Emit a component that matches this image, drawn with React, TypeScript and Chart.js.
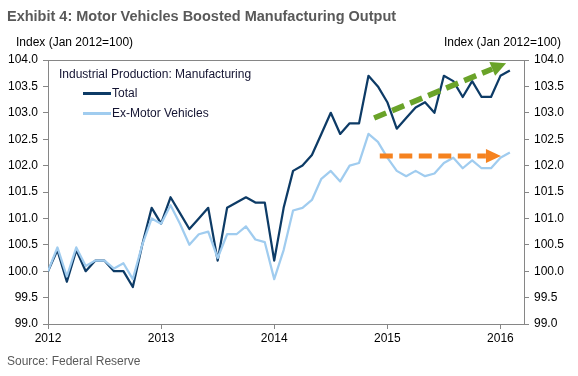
import { useEffect, useRef } from "react";
import { Chart, registerables } from "chart.js";

Chart.register(...registerables);

// ---- data (monthly, Jan 2012 .. Feb 2016) ----
const total = [
  100.0, 100.4, 99.8, 100.4, 100.0, 100.2, 100.2, 100.0, 100.0, 99.7, 100.5, 101.2,
  100.9, 101.4, 101.1, 100.8, 101.0, 101.2, 100.2, 101.2, 101.3, 101.4, 101.3, 101.3,
  100.2, 101.2, 101.9, 102.0, 102.2, 102.6, 103.0, 102.6, 102.8, 102.8, 103.7, 103.5,
  103.2, 102.7, 102.9, 103.1, 103.2, 103.0, 103.7, 103.6, 103.3, 103.6, 103.3, 103.3,
  103.7, 103.8,
];
const exMotor = [
  100.0, 100.45, 99.9, 100.45, 100.1, 100.2, 100.2, 100.05, 100.15, 99.85, 100.5, 101.0,
  100.9, 101.25, 100.9, 100.5, 100.7, 100.75, 100.25, 100.7, 100.7, 100.85, 100.6, 100.55,
  99.85, 100.4, 101.15, 101.2, 101.35, 101.75, 101.9, 101.7, 102.0, 102.05, 102.6, 102.45,
  102.15, 101.9, 101.8, 101.9, 101.8, 101.85, 102.05, 102.15, 101.95, 102.1, 101.95, 101.95,
  102.15, 102.25,
];
const yearLabels = ["2012", "2013", "2014", "2015", "2016"];
const yearTickMonths = [0, 12, 24, 36, 48];
const seriesNames = ["Total", "Ex-Motor Vehicles"];
// arrow annotations in data units: [monthIndex, value]
const greenArrowFrom = [34.6, 102.9];
const greenArrowTo = [48.6, 103.94];
const orangeArrowFrom = [35.2, 102.18];
const orangeArrowTo = [48.05, 102.18];

const FONT = '"Liberation Sans", Arial, Helvetica, sans-serif';
const DARK = "#0d3b66";
const LIGHT = "#a0ccef";
const AXIS = "#868686";

function drawArrow(chart: any, from: number[], to: number[], color: string, lw: number, dash: number[], headLen: number, headHalf: number) {
  const { ctx, scales } = chart;
  const sx = scales.x.getPixelForValue(from[0]);
  const sy = scales.y.getPixelForValue(from[1]);
  const tx = scales.x.getPixelForValue(to[0]);
  const ty = scales.y.getPixelForValue(to[1]);
  const len = Math.hypot(tx - sx, ty - sy);
  const ux = (tx - sx) / len;
  const uy = (ty - sy) / len;
  const bx = tx - ux * headLen;
  const by = ty - uy * headLen;
  ctx.save();
  ctx.strokeStyle = color;
  ctx.fillStyle = color;
  ctx.lineWidth = lw;
  ctx.lineCap = "butt";
  ctx.setLineDash(dash);
  ctx.beginPath();
  ctx.moveTo(sx, sy);
  ctx.lineTo(bx, by);
  ctx.stroke();
  ctx.setLineDash([]);
  ctx.beginPath();
  ctx.moveTo(tx, ty);
  ctx.lineTo(bx - uy * headHalf, by + ux * headHalf);
  ctx.lineTo(bx + uy * headHalf, by - ux * headHalf);
  ctx.closePath();
  ctx.fill();
  ctx.restore();
}

const extrasPlugin = {
  id: "extras",
  afterDatasetsDraw(chart: any) {
    drawArrow(chart, greenArrowFrom, greenArrowTo, "#6aa329", 5.5, [13, 6.5], 15, 7.5);
    drawArrow(chart, orangeArrowFrom, orangeArrowTo, "#f5821f", 5, [13, 6.5], 15, 7);
  },
  afterDraw(chart: any) {
    const { ctx, chartArea } = chart;
    ctx.save();
    ctx.strokeStyle = AXIS;
    ctx.lineWidth = 1;
    ctx.beginPath();
    ctx.moveTo(chartArea.left, Math.round(chartArea.top) + 0.5);
    ctx.lineTo(chartArea.right, Math.round(chartArea.top) + 0.5);
    ctx.stroke();
    ctx.restore();
  },
};

export default function App() {
  const ref = useRef<HTMLCanvasElement>(null);

  useEffect(() => {
    const canvas = ref.current!;
    const tickFont = { family: FONT, size: 12 };
    const yCommon = {
      min: 99,
      max: 104,
      ticks: {
        stepSize: 0.5,
        callback: (v: any) => Number(v).toFixed(1),
        font: tickFont,
        color: "#000",
        padding: 5,
      },
      grid: { drawOnChartArea: false, drawTicks: true, tickLength: 5, color: AXIS },
      border: { display: true, color: AXIS },
    };
    const chart = new Chart(canvas, {
      type: "line",
      data: {
        datasets: [
          {
            label: seriesNames[0],
            data: total.map((v, i) => ({ x: i, y: v })),
            borderColor: DARK,
            backgroundColor: DARK,
            borderWidth: 2.25,
            pointRadius: 0,
            tension: 0,
            borderJoinStyle: "round",
            yAxisID: "y",
            order: 1,
          },
          {
            label: seriesNames[1],
            data: exMotor.map((v, i) => ({ x: i, y: v })),
            borderColor: LIGHT,
            backgroundColor: LIGHT,
            borderWidth: 2.25,
            pointRadius: 0,
            tension: 0,
            borderJoinStyle: "round",
            yAxisID: "y",
            order: 0,
          },
        ],
      },
      options: {
        responsive: false,
        animation: false,
        devicePixelRatio: 1,
        layout: { padding: { left: 8, right: 8, top: 60, bottom: 30 } },
        plugins: { legend: { display: false }, tooltip: { enabled: false } },
        events: [],
        scales: {
          x: {
            type: "linear",
            min: 0,
            max: 50.5,
            afterBuildTicks: (s: any) => {
              s.ticks = yearTickMonths.map((v) => ({ value: v }));
            },
            ticks: {
              callback: (_v: any, i: number) => yearLabels[i] ?? "",
              font: tickFont,
              color: "#000",
              padding: 2,
              maxRotation: 0,
              autoSkip: false,
            },
            grid: { drawOnChartArea: false, drawTicks: true, tickLength: 5, color: AXIS },
            border: { display: true, color: AXIS },
            afterFit: (s: any) => {
              s.height = 22;
            },
          },
          y: {
            ...yCommon,
            position: "left",
            afterFit: (s: any) => {
              s.width = 40;
            },
          },
          y2: {
            ...yCommon,
            position: "right",
            afterFit: (s: any) => {
              s.width = 46;
            },
          },
        },
      } as any,
      plugins: [extrasPlugin],
    });
    return () => chart.destroy();
  }, []);

  const txt = (extra: any) => ({
    position: "absolute" as const,
    fontFamily: FONT,
    fontSize: 12,
    lineHeight: "14px",
    whiteSpace: "nowrap" as const,
    color: "#000",
    ...extra,
  });

  return (
    <div style={{ position: "relative", width: 578, height: 376, background: "#fff", overflow: "hidden" }}>
      <style>{"body{margin:0}"}</style>
      <canvas ref={ref} width={578} height={376} style={{ position: "absolute", left: 0, top: 0, width: 578, height: 376 }} />
      <div style={txt({ left: 7, top: 7, fontSize: 14.5, lineHeight: "18px", fontWeight: "bold", color: "#595959" })}>
        Exhibit 4: Motor Vehicles Boosted Manufacturing Output
      </div>
      <div style={txt({ left: 16, top: 35 })}>Index (Jan 2012=100)</div>
      <div style={txt({ right: 17, top: 35 })}>Index (Jan 2012=100)</div>
      <div style={txt({ left: 59, top: 67, color: "#141432" })}>Industrial Production: Manufacturing</div>
      <div style={{ position: "absolute", left: 83, top: 92, width: 28, height: 3, background: DARK }} />
      <div style={txt({ left: 112, top: 86, color: "#141432" })}>{seriesNames[0]}</div>
      <div style={{ position: "absolute", left: 83, top: 112, width: 28, height: 3, background: LIGHT }} />
      <div style={txt({ left: 112, top: 106, color: "#141432" })}>{seriesNames[1]}</div>
      <div style={txt({ left: 7, top: 354, color: "#595959" })}>Source: Federal Reserve</div>
    </div>
  );
}
